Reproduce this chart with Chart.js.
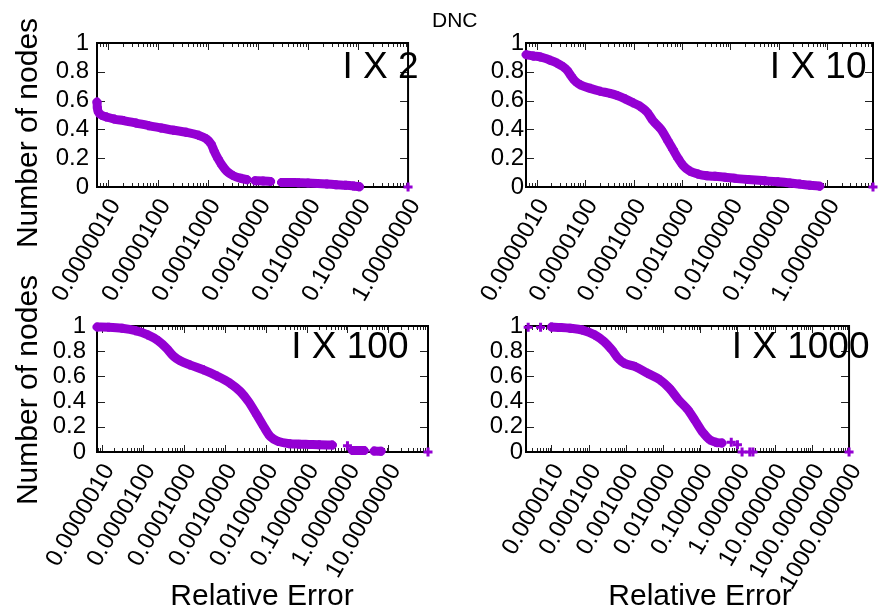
<!DOCTYPE html>
<html>
<head>
<meta charset="utf-8">
<script src="https://cdn.jsdelivr.net/npm/chart.js@4.4.0/dist/chart.umd.min.js"></script>
<style>
  body { margin: 0; background: #fff; }
  #page { position: relative; width: 881px; height: 611px; overflow: hidden; background: #fff; }
  canvas { position: absolute; }
  #dnc { position: absolute; left: 432px; top: 9px; font: 21px 'Liberation Sans', Arial, sans-serif; line-height: 21px; color: #000; }
</style>
</head>
<body>
<div id="page">
  <canvas id="c1" width="440" height="310" style="left:0;top:0"></canvas>
  <canvas id="c2" width="441" height="310" style="left:440px;top:0"></canvas>
  <canvas id="c3" width="440" height="351" style="left:0;top:260px"></canvas>
  <canvas id="c4" width="441" height="351" style="left:440px;top:260px"></canvas>
  <div id="dnc">DNC</div>
</div>
<script>
// relative error (x) and fraction of nodes (y), null = gap
var errX2 = [6.0e-7, 6.1e-7, 6.4e-7, 7.5e-7, 9.3e-7, 1.33e-6, 2.04e-6, 3.63e-6, 6.46e-6, 1.15e-5, 2.04e-5, 3.63e-5, 6.46e-5, 9.33e-5, 1.15e-4, 1.33e-4, 1.58e-4, 1.91e-4, 2.37e-4, 3.16e-4, 4.57e-4, 6.03e-4, null, 8.71e-4, 1.26e-3, 1.78e-3, null, 2.95e-3, 4.22e-3, 6.46e-3, 1.0e-2, 1.55e-2, 2.37e-2, 3.63e-2, 5.62e-2, 8.13e-2, 1.07e-1, null, 1.0];
var fracX2 = [0.59, 0.55, 0.52, 0.498, 0.486, 0.472, 0.461, 0.444, 0.426, 0.41, 0.394, 0.38, 0.359, 0.333, 0.299, 0.248, 0.197, 0.15, 0.109, 0.079, 0.06, 0.051, null, 0.044, 0.042, 0.039, null, 0.032, 0.032, 0.03, 0.028, 0.025, 0.021, 0.016, 0.012, 0.007, 0.002, null, 0];

var errX10 = [6.05e-7, 8.48e-7, 1.18e-6, 1.90e-6, 2.65e-6, 3.52e-6, 4.26e-6, 5.14e-6, 6.22e-6, 7.89e-6, 1.27e-5, 2.04e-5, 3.27e-5, 4.57e-5, 6.68e-5, 9.77e-5, 1.36e-4, 1.90e-4, 2.52e-4, 3.69e-4, 5.14e-4, 6.52e-4, 8.26e-4, 1.05e-3, 1.46e-3, 2.14e-3, 3.27e-3, 4.79e-3, 7.71e-3, 1.24e-2, 2.30e-2, 5.14e-2, 9.53e-2, 1.69e-1, 2.71e-1, 4.36e-1, 7.0e-1, null, 8.8];
var fracX10 = [0.919, 0.91, 0.903, 0.88, 0.86, 0.835, 0.81, 0.77, 0.735, 0.71, 0.685, 0.665, 0.65, 0.635, 0.612, 0.585, 0.56, 0.52, 0.46, 0.40, 0.32, 0.26, 0.20, 0.15, 0.11, 0.09, 0.078, 0.074, 0.068, 0.06, 0.052, 0.043, 0.036, 0.028, 0.02, 0.012, 0.006, null, 0];

var errX100 = [7.6e-7, 1.45e-6, 3.09e-6, 6.61e-6, 1.32e-5, 2.34e-5, 3.80e-5, 5.50e-5, 7.94e-5, 1.41e-4, 3.02e-4, 6.46e-4, 1.35e-3, 2.40e-3, 3.80e-3, 6.03e-3, 8.91e-3, 1.29e-2, 2.04e-2, 3.89e-2, 6.61e-2, 1.15e-1, 2.04e-1, 4.27e-1, null, 1.0, null, 1.32, 1.95, 2.57, null, 4.47, 6.61, null, 93];
var fracX100 = [0.992, 0.99, 0.982, 0.963, 0.929, 0.884, 0.823, 0.763, 0.726, 0.691, 0.652, 0.604, 0.546, 0.48, 0.401, 0.296, 0.203, 0.124, 0.084, 0.066, 0.062, 0.06, 0.058, 0.055, null, 0.05, null, 0.012, 0.011, 0.011, null, 0.007, 0.006, null, 0];

var errX1000 = [2.37e-6, null, 5.1e-6, null, 1.0e-5, 1.78e-5, 3.16e-5, 6.81e-5, 1.47e-4, 2.61e-4, 4.22e-4, 6.19e-4, 9.08e-4, 1.78e-3, 3.83e-3, 8.26e-3, 1.47e-2, 2.61e-2, 4.65e-2, 7.5e-2, 1.21e-1, 1.78e-1, 2.61e-1, 3.83e-1, null, 6.81e-1, null, 1.0, null, 1.33, null, 2.15, null, 2.61, null, 1000];
var fracX1000 = [0.99, null, 0.99, null, 0.992, 0.988, 0.982, 0.968, 0.929, 0.876, 0.81, 0.744, 0.704, 0.678, 0.625, 0.573, 0.507, 0.414, 0.335, 0.243, 0.15, 0.098, 0.077, 0.071, null, 0.077, null, 0.058, null, 0, null, 0, null, 0, null, 0];

// tick labels
var yTicks = [0, 0.2, 0.4, 0.6, 0.8, 1];
var xTicks2 = [1e-6, 1e-5, 1e-4, 1e-3, 1e-2, 1e-1, 1];
var xTicks10 = [1e-6, 1e-5, 1e-4, 1e-3, 1e-2, 1e-1, 1];
var xTicks100 = [1e-6, 1e-5, 1e-4, 1e-3, 1e-2, 1e-1, 1, 10];
var xTicks1000 = [1e-5, 1e-4, 1e-3, 1e-2, 1e-1, 1, 10, 100, 1000];

var panelTitles = ['I X 2', 'I X 10', 'I X 100', 'I X 1000'];
var yTitle = 'Number of nodes';
var xTitle = 'Relative Error';

var purple = 'rgb(148, 0, 211)';
var font = "'Liberation Sans', Arial, sans-serif";

// gnuplot style frame with inward ticks, plus the free texts
var gnuFrame = {
  id: 'gnuFrame',
  beforeDatasetsDraw: function (chart) {
    var ctx = chart.ctx, a = chart.chartArea;
    var xs = chart.scales.x, ys = chart.scales.y;
    ctx.save();
    ctx.strokeStyle = '#222';
    ctx.lineWidth = 1;
    ctx.beginPath();
    yTicks.forEach(function (v) {
      var py = Math.round(ys.getPixelForValue(v)) + 0.5;
      ctx.moveTo(a.left, py); ctx.lineTo(a.left + 8, py);
      ctx.moveTo(a.right, py); ctx.lineTo(a.right - 8, py);
    });
    var lo = Math.floor(Math.log10(xs.min)), hi = Math.ceil(Math.log10(xs.max));
    for (var e = lo; e <= hi; e++) {
      for (var m = 1; m < 10; m++) {
        var v = m * Math.pow(10, e);
        if (v < xs.min * 0.999 || v > xs.max * 1.001) continue;
        var px = Math.round(xs.getPixelForValue(v)) + 0.5;
        var len = m === 1 ? 7 : 4;
        ctx.moveTo(px, a.bottom); ctx.lineTo(px, a.bottom - len);
        ctx.moveTo(px, a.top); ctx.lineTo(px, a.top + len);
      }
    }
    ctx.stroke();
    ctx.strokeStyle = '#000';
    ctx.lineWidth = 2;
    ctx.strokeRect(a.left, a.top, a.right - a.left, a.bottom - a.top);
    ctx.restore();
  },
  afterDraw: function (chart, args, opts) {
    var ctx = chart.ctx;
    (opts.texts || []).forEach(function (t) {
      ctx.save();
      ctx.fillStyle = '#000';
      ctx.font = t.size + 'px ' + font;
      ctx.textAlign = t.align;
      ctx.textBaseline = 'alphabetic';
      ctx.translate(t.x, t.y);
      if (t.rot) ctx.rotate(t.rot);
      ctx.fillText(t.text, 0, 0);
      ctx.restore();
    });
  }
};

function makePanel(id, errs, fracs, xMin, xMax, xTicks, digits, area, yPad, texts) {
  var canvas = document.getElementById(id);
  var W = canvas.width, H = canvas.height;
  var pts = errs.map(function (x, i) { return { x: x, y: fracs[i] }; });
  return new Chart(canvas.getContext('2d'), {
    type: 'line',
    data: {
      datasets: [{
        data: pts,
        borderColor: purple,
        backgroundColor: purple,
        borderWidth: 9,
        borderCapStyle: 'round',
        borderJoinStyle: 'round',
        cubicInterpolationMode: 'monotone',
        pointStyle: 'cross',
        pointRadius: 4.5,
        pointBorderWidth: 3,
        pointBorderColor: purple,
        spanGaps: false,
        clip: false
      }]
    },
    options: {
      responsive: false,
      animation: false,
      events: [],
      layout: { padding: { left: 0, top: area.top, right: W - area.right, bottom: 0 } },
      plugins: {
        legend: { display: false },
        tooltip: { enabled: false },
        gnuFrame: { texts: texts }
      },
      scales: {
        x: {
          type: 'logarithmic',
          min: xMin,
          max: xMax,
          grid: { display: false, drawTicks: false },
          border: { display: false },
          ticks: {
            autoSkip: false,
            minRotation: 60,
            maxRotation: 60,
            padding: 7,
            labelOffset: 7,
            color: '#000',
            font: { family: font, size: 24 },
            callback: function (v) { return Number(v).toFixed(digits); }
          },
          afterBuildTicks: function (s) { s.ticks = xTicks.map(function (v) { return { value: v }; }); },
          afterFit: function (s) { s.height = H - area.bottom; }
        },
        y: {
          type: 'linear',
          min: 0,
          max: 1,
          grid: { display: false, drawTicks: false },
          border: { display: false },
          ticks: {
            autoSkip: false,
            padding: yPad,
            color: '#000',
            font: { family: font, size: 24 },
            callback: function (v) { return String(v); }
          },
          afterBuildTicks: function (s) { s.ticks = yTicks.map(function (v) { return { value: v }; }); },
          afterFit: function (s) { s.width = area.left; }
        }
      }
    },
    plugins: [gnuFrame]
  });
}

var up = -Math.PI / 2;

makePanel('c1', errX2, fracX2, 6.0e-7, 1, xTicks2, 7,
  { left: 97, top: 43, right: 428, bottom: 187 }, 8, [
    { text: panelTitles[0], x: 418.5, y: 78, size: 37, align: 'right' },
    { text: yTitle, x: 37, y: 133, size: 30, align: 'center', rot: up }
  ]);

makePanel('c2', errX10, fracX10, 6.0e-7, 8.8, xTicks10, 7,
  { left: 86, top: 43, right: 433, bottom: 187 }, 2, [
    { text: panelTitles[1], x: 426.5, y: 78, size: 37, align: 'right' }
  ]);

makePanel('c3', errX100, fracX100, 7.55e-7, 93, xTicks100, 7,
  { left: 97, top: 66, right: 428, bottom: 192 }, 11, [
    { text: panelTitles[2], x: 408.5, y: 98, size: 37, align: 'right' },
    { text: yTitle, x: 37, y: 130, size: 30, align: 'center', rot: up },
    { text: xTitle, x: 262, y: 345, size: 30, align: 'center' }
  ]);

makePanel('c4', errX1000, fracX1000, 2.07e-6, 1000, xTicks1000, 6,
  { left: 86, top: 66, right: 433, bottom: 192 }, 3, [
    { text: panelTitles[3], x: 429.5, y: 98, size: 37, align: 'right' },
    { text: xTitle, x: 260, y: 345, size: 30, align: 'center' }
  ]);
</script>
</body>
</html>
